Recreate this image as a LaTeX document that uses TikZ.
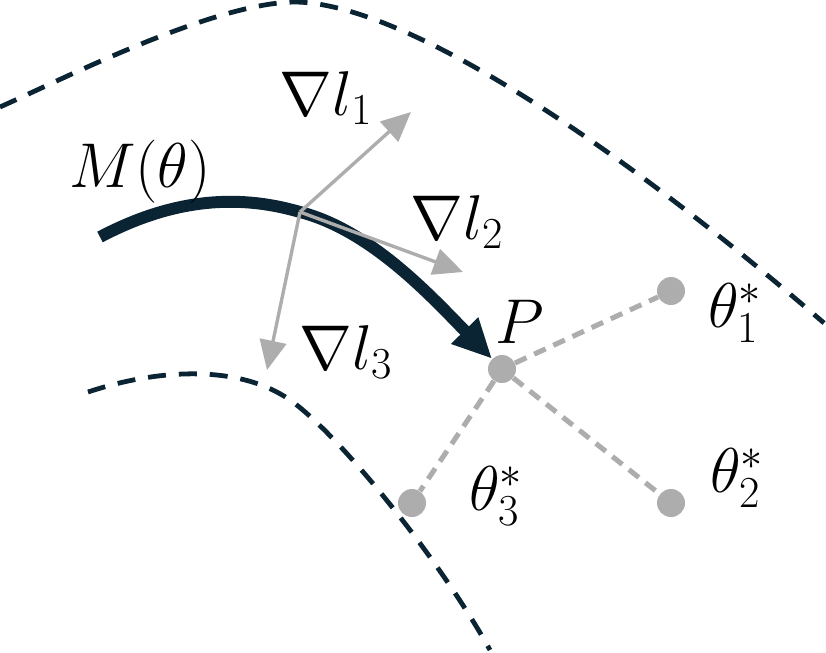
\RequirePackage{fix-cm}
\documentclass[tikz,border=0pt]{standalone}
\usepackage{tikz}
\usetikzlibrary{arrows.meta}
\usepackage{xcolor}
\definecolor{navy}{HTML}{0B2434}
\definecolor{dot}{HTML}{ADADAD}

\begin{document}
\begin{tikzpicture}[x=0.025cm,y=-0.025cm,
		lbl/.style={font=\fontsize{45}{54}\selectfont,inner sep=0pt},
		pt/.style={circle,fill=dot,minimum size=0.7cm,inner sep=0pt},
		border/.style={navy,line width=3.4pt,dash pattern=on 12.8pt off 9.2pt},
		grad/.style={dot,line width=2.4pt,-{Triangle[length=21pt,width=19pt]}},
		link/.style={dot,line width=3.6pt,dash pattern=on 9pt off 6pt},]
	\useasboundingbox (0,0) rectangle (826,652);
	%points
	\node[pt] (P) at (502,369) {};
	\node[pt] (T1) at (671,291) {};
	\node[pt] (T2) at (671,503) {};
	\node[pt] (T3) at (412,503) {};
	\coordinate (O) at (300,212);
	\coordinate (G1) at (411,112);
	\coordinate (G2) at (463,272);
	\coordinate (G3) at (267,370);
	%borders
	\draw[border] (0,107) .. controls (65,78) and (215,2) .. (296,2) .. controls (400,4) and (600,130) .. (824,323);
	\draw[border] (88,392) .. controls (160,368) and (240,365) .. (290,400) .. controls (340,435) and (440,560) .. (490,650);
	%links
	\draw[link] (P) -- (T1);
	\draw[link] (P) -- (T2);
	\draw[link] (P) -- (T3);
	%path
	\draw[navy,line width=8.5pt,-{Triangle[length=28pt,width=25pt]}] (100,237) .. controls (170,200) and (235,193) .. (O) .. controls (370,230) and (430,295) .. (P);
	%gradients
	\draw[grad] (O) -- (G1);
	\draw[grad] (O) -- (G2);
	\draw[grad] (O) -- (G3);
	%labels
	\node[lbl] (M) at (140,172) {$M(\theta)$};
	\node[lbl] (L1) at (326,98) {$\nabla l_1$};
	\node[lbl] (L2) at (457,222) {$\nabla l_2$};
	\node[lbl] (L3) at (346,352) {$\nabla l_3$};
	\node[lbl] (LP) at (520,322) {$P$};
	\node[lbl] (LT1) at (735,313) {$\theta_1^*$};
	\node[lbl] (LT2) at (737,478) {$\theta_2^*$};
	\node[lbl] (LT3) at (496,496) {$\theta_3^*$};
\end{tikzpicture}
\end{document}
